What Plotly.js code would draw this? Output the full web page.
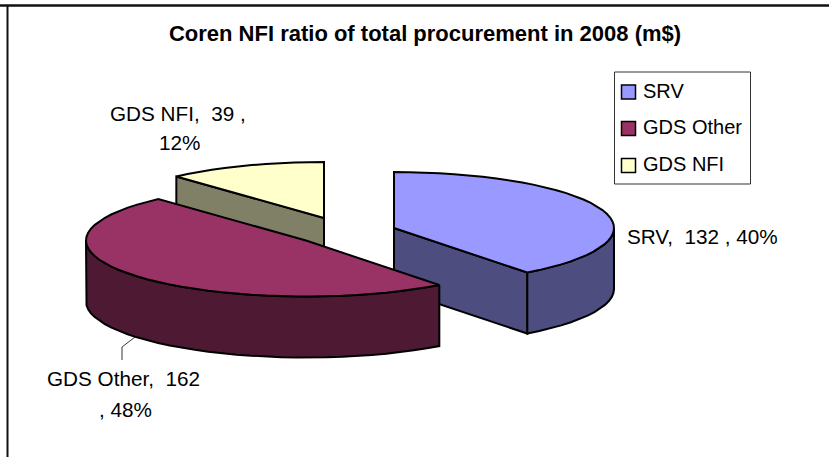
<!DOCTYPE html>
<html><head><meta charset="utf-8">
<script src="https://cdn.plot.ly/plotly-3.0.0.min.js"></script>
<style>html,body{margin:0;padding:0;background:#fff}#c{width:829px;height:457px}</style>
</head><body><div id="c"></div>
<script>
const categories = ['SRV', 'GDS Other', 'GDS NFI'];
const amounts = [132, 162, 39];
const percents = [40, 48, 12];
const topColors = ['#9999FF', '#993366', '#FFFFCC'];
const sideColors = ['#4D4D80', '#4D1933', '#808066'];
const FONT = 'Liberation Sans, Arial, sans-serif';

// 3-D projection of the pie
const RX = 220, RY = 56, DEPTH = 61;
const apexes = [[394, 228], [306, 240.5], [324, 218]];
const total = amounts.reduce((a, b) => a + b, 0);
const bounds = [];
let run = 0;
amounts.forEach(v => { bounds.push([run, run + v / total * 360]); run += v / total * 360; });

function pt(i, deg, dz) {
  const r = deg * Math.PI / 180;
  return [apexes[i][0] + RX * Math.sin(r), apexes[i][1] - RY * Math.cos(r) + (dz || 0)];
}
function arc(i, a0, a1, dz) {
  const n = Math.max(2, Math.round(Math.abs(a1 - a0) / 4)), out = [];
  for (let k = 0; k <= n; k++) out.push(pt(i, a0 + (a1 - a0) * k / n, dz));
  return out;
}
function poly(points, color, w) {
  const c = points.concat([points[0]]);
  return { type: 'scatter', mode: 'lines', x: c.map(p => p[0]), y: c.map(p => p[1]),
    fill: 'toself', fillcolor: color, line: { color: '#000', width: w || 2 },
    hoverinfo: 'skip', showlegend: false };
}
function topFace(i) {
  const [a0, a1] = bounds[i];
  return poly([apexes[i]].concat(arc(i, a0, a1, 0)), topColors[i]);
}
function outerWall(i, a0, a1) {
  return poly(arc(i, a0, a1, 0).concat(arc(i, a1, a0, DEPTH)), sideColors[i]);
}
function radialWall(i, deg) {
  const ax = apexes[i], e = pt(i, deg, 0);
  return poly([ax, e, [e[0], e[1] + DEPTH], [ax[0], ax[1] + DEPTH]], sideColors[i]);
}

const traces = [
  radialWall(2, bounds[2][0]),
  topFace(2),
  radialWall(0, bounds[0][1]),
  outerWall(0, 90, bounds[0][1]),
  topFace(0),
  outerWall(1, bounds[0][1], 270),
  topFace(1),
  { type: 'scatter', mode: 'lines', x: [135, 122, 122], y: [337, 347, 360],
    line: { color: '#000', width: 0.8 }, hoverinfo: 'skip', showlegend: false }
];

const lab = (x, y, text, size, extra) => Object.assign({
  x, y, xref: 'x', yref: 'y', text, showarrow: false, xanchor: 'center', yanchor: 'middle',
  font: { family: FONT, size: size || 20.7, color: '#000' }
}, extra || {});

const annotations = [
  lab(178, 113.5, categories[2] + ',  ' + amounts[2] + ' ,'),
  lab(179, 142, percents[2] + '%'),
  lab(702.5, 236, categories[0] + ',  ' + amounts[0] + ' , ' + percents[0] + '%'),
  lab(123.5, 378.5, categories[1] + ',  ' + amounts[1]),
  lab(125, 409, ', ' + percents[1] + '%')
];

const shapes = [
  { type: 'line', x0: 0, x1: 829, y0: 5.5, y1: 5.5, line: { color: '#111', width: 2.5 }, layer: 'below' },
  { type: 'line', x0: 7.5, x1: 7.5, y0: 5, y1: 457, line: { color: '#111', width: 2 }, layer: 'below' },
  { type: 'rect', x0: 614.5, x1: 750.5, y0: 72, y1: 184, line: { color: '#333', width: 1 }, fillcolor: '#fff' }
];
const swatchY = [92, 128.5, 165.5];
categories.forEach((c, i) => {
  shapes.push({ type: 'rect', x0: 621.5, x1: 635.5, y0: swatchY[i] - 7, y1: swatchY[i] + 7,
    line: { color: '#000', width: 1.5 }, fillcolor: topColors[i] });
  annotations.push(lab(640.5, swatchY[i] - 1.5, c, 20, { xanchor: 'left' }));
});

Plotly.newPlot('c', traces, {
  width: 829, height: 457, margin: { l: 0, r: 0, t: 0, b: 0 },
  paper_bgcolor: '#fff', plot_bgcolor: '#fff', showlegend: false,
  title: { text: '<b>Coren NFI ratio of total procurement in 2008 (m$)</b>',
    font: { family: FONT, size: 22, color: '#000' }, x: 0.5127, xanchor: 'center', y: 0.928, yanchor: 'middle' },
  xaxis: { range: [0, 829], visible: false, fixedrange: true },
  yaxis: { range: [457, 0], visible: false, fixedrange: true },
  annotations, shapes
}, { displayModeBar: false, staticPlot: true });
</script></body></html>
